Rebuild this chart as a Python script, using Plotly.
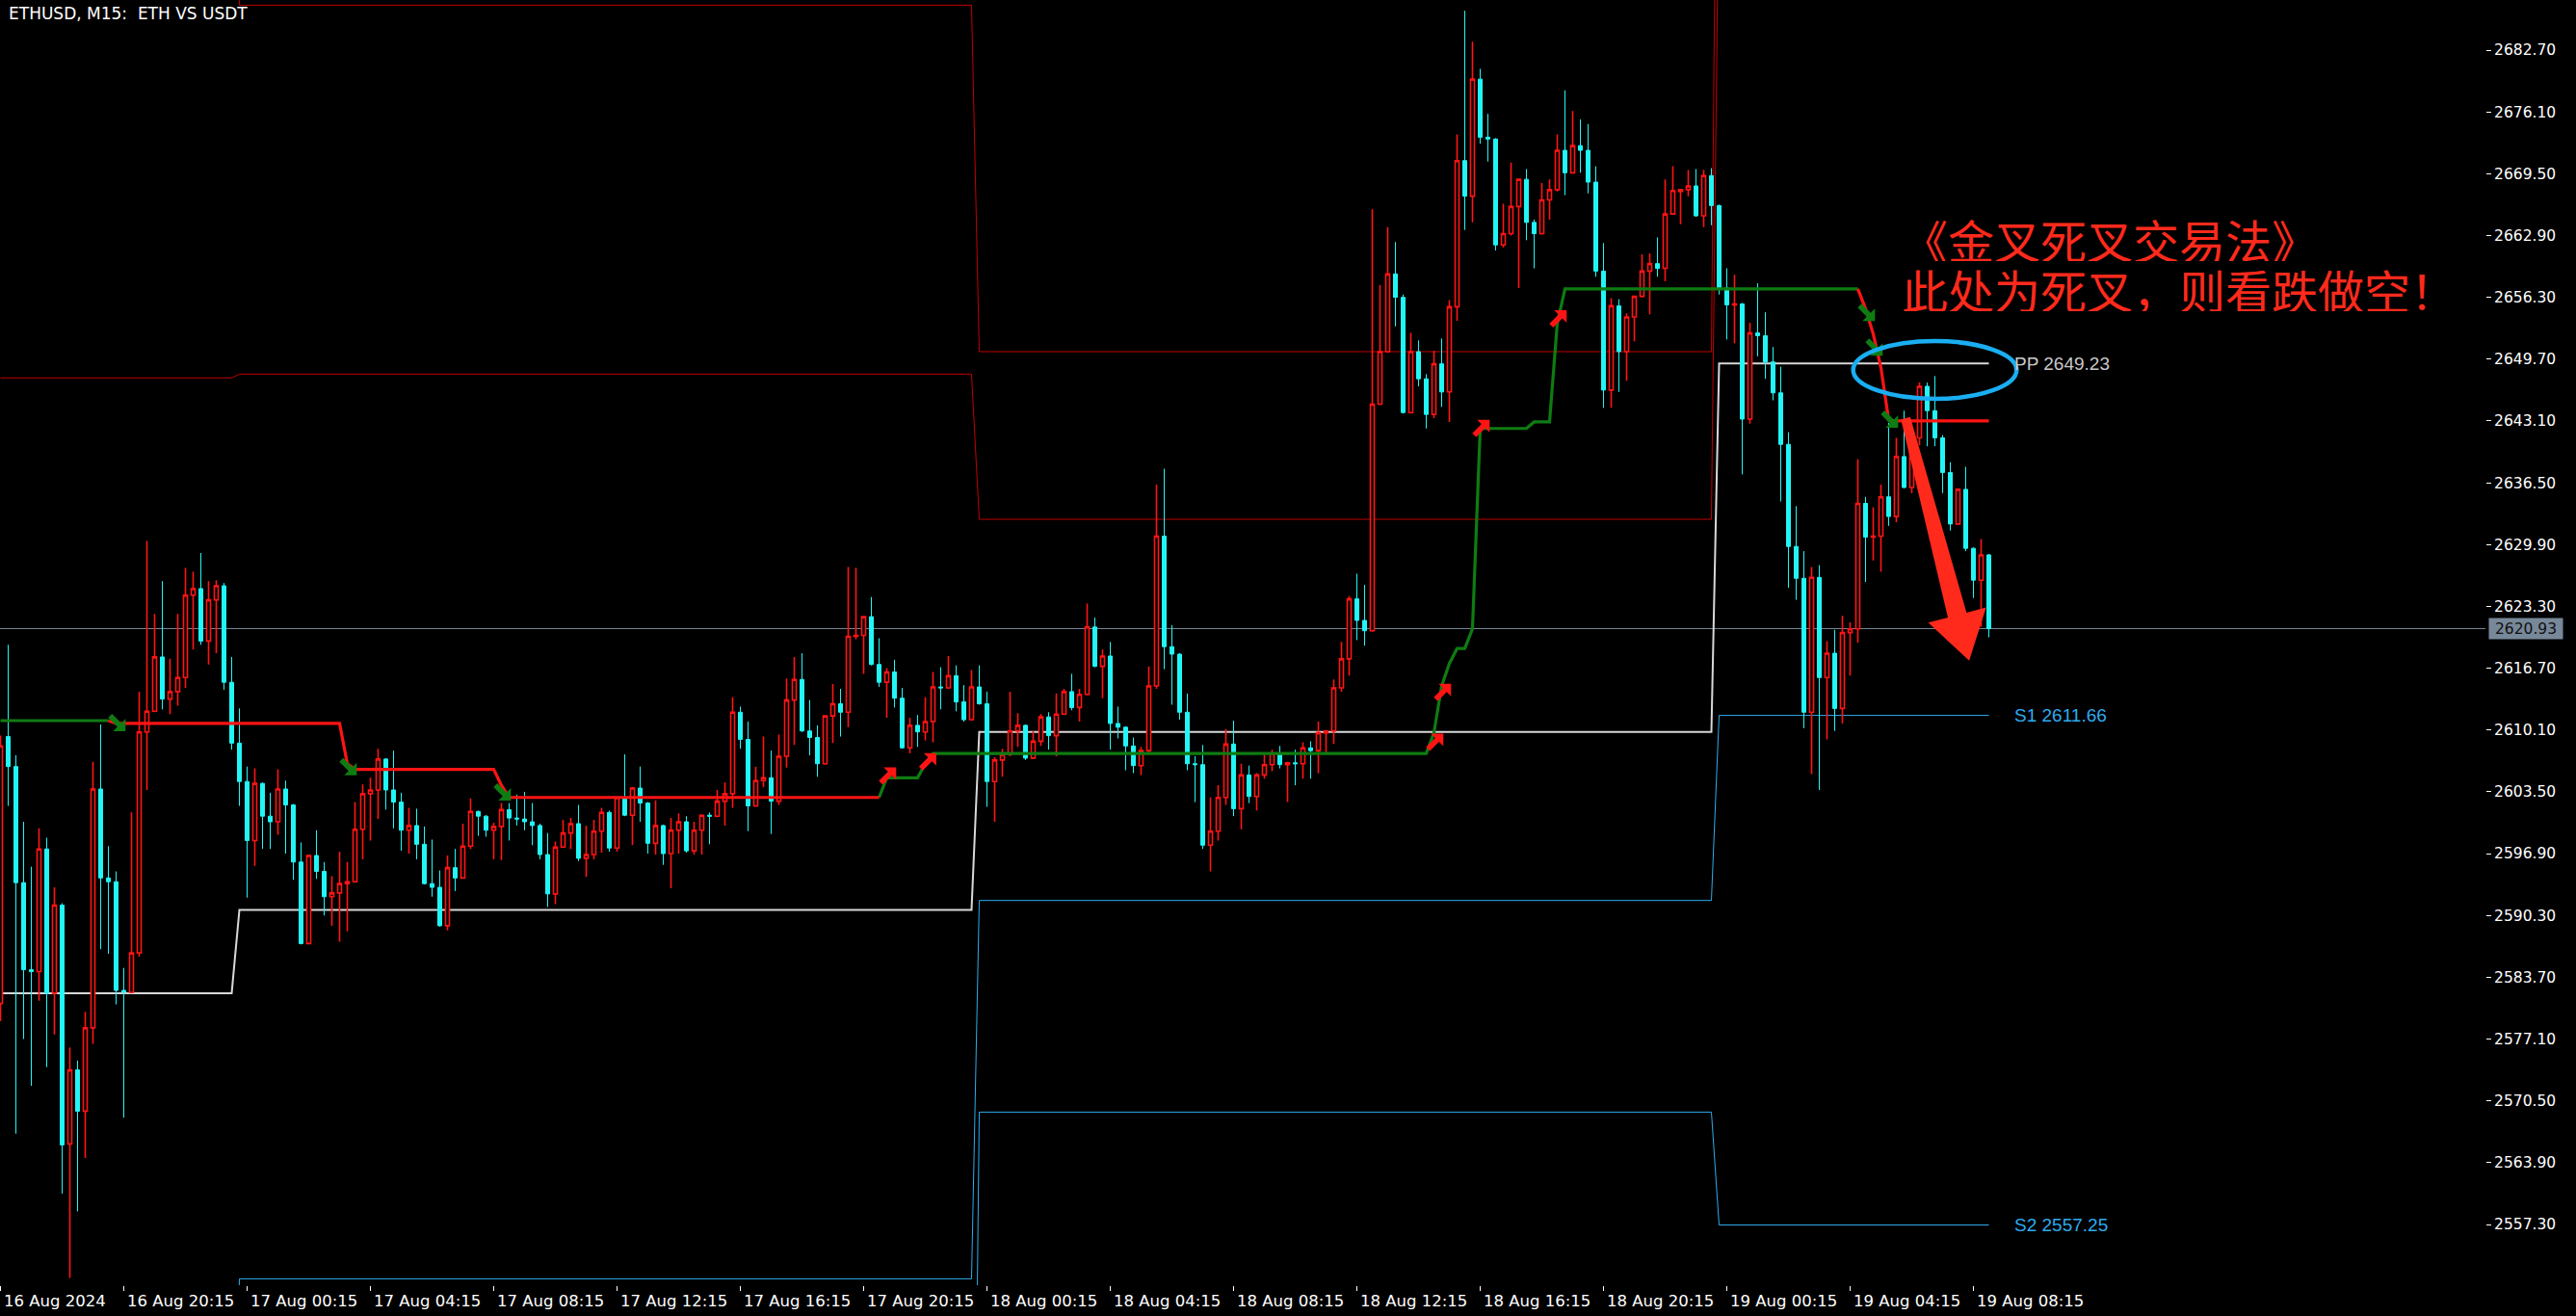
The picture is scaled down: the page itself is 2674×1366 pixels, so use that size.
import math
import plotly.graph_objects as go

# ---------------- data ----------------
open_ = [2580.9, 2609.4, 2606.2, 2593.8, 2584.5, 2584.3, 2597.4, 2582.0, 2591.4, 2565.9,
         2573.8, 2569.4, 2578.3, 2603.8, 2594.3, 2593.9, 2582.3, 2582.1, 2586.3, 2609.9,
         2612.1, 2617.9, 2613.4, 2614.2, 2615.7, 2624.5, 2625.2, 2619.6, 2624.0, 2625.5,
         2615.2, 2608.7, 2604.6, 2598.3, 2604.4, 2600.9, 2600.3, 2603.8, 2602.1, 2596.0,
         2587.3, 2596.7, 2595.0, 2592.3, 2592.7, 2593.7, 2593.9, 2599.5, 2603.3, 2603.7,
         2607.0, 2603.7, 2602.4, 2599.4, 2599.9, 2597.9, 2593.7, 2593.3, 2589.2, 2595.4,
         2594.3, 2597.7, 2601.4, 2600.9, 2599.4, 2599.8, 2601.6, 2600.7, 2600.6, 2600.3,
         2599.9, 2596.8, 2592.6, 2597.6, 2599.1, 2600.1, 2596.4, 2596.8, 2599.3, 2601.3,
         2597.5, 2602.9, 2601.0, 2603.9, 2602.3, 2598.0, 2599.9, 2596.9, 2599.4, 2600.3,
         2597.2, 2599.4, 2601.0, 2600.9, 2602.5, 2603.3, 2612.0, 2609.1, 2602.0, 2604.7,
         2605.0, 2602.5, 2607.3, 2613.3, 2615.5, 2610.0, 2609.3, 2606.5, 2611.6, 2612.9,
         2612.0, 2620.1, 2620.2, 2622.2, 2617.1, 2615.2, 2616.3, 2613.5, 2608.2, 2610.6,
         2609.9, 2611.0, 2614.7, 2614.6, 2615.9, 2613.1, 2611.2, 2614.7, 2612.9, 2604.6,
         2606.9, 2607.5, 2610.0, 2610.6, 2607.1, 2608.9, 2611.5, 2609.5, 2611.8, 2614.2,
         2612.5, 2613.9, 2621.1, 2616.9, 2618.0, 2610.8, 2610.4, 2608.4, 2606.3, 2607.9,
         2614.8, 2630.8, 2619.0, 2618.2, 2612.0, 2606.5, 2606.4, 2597.8, 2599.3, 2602.9,
         2608.6, 2601.7, 2605.3, 2603.0, 2605.3, 2606.4, 2607.6, 2606.4, 2606.6, 2606.5,
         2608.2, 2607.9, 2609.8, 2610.0, 2614.6, 2617.7, 2624.1, 2621.8, 2620.7, 2644.9,
         2650.5, 2658.8, 2656.3, 2644.0, 2650.5, 2647.6, 2643.8, 2649.2, 2646.2, 2655.3,
         2670.9, 2667.1, 2679.6, 2673.4, 2673.2, 2661.9, 2663.1, 2666.0, 2668.9, 2664.3,
         2663.1, 2666.7, 2667.8, 2672.0, 2669.6, 2672.5, 2672.0, 2668.6, 2659.1, 2646.4,
         2655.4, 2650.5, 2654.2, 2656.4, 2659.1, 2659.9, 2659.4, 2665.2, 2667.6, 2667.8,
         2668.2, 2665.0, 2669.3, 2666.1, 2657.3, 2655.5, 2655.6, 2643.3, 2652.5, 2652.2,
         2649.4, 2646.1, 2640.6, 2629.7, 2626.3, 2612.0, 2626.4, 2615.7, 2618.3, 2612.4,
         2620.5, 2620.9, 2634.3, 2630.7, 2630.8, 2635.0, 2632.9, 2639.3, 2636.0, 2641.3,
         2646.8, 2644.2, 2641.3, 2637.6, 2632.1, 2635.8, 2629.5, 2626.1, 2628.8]
high = [2609.5, 2619.2, 2607.4, 2600.3, 2595.5, 2599.6, 2598.6, 2593.3, 2591.6, 2576.2,
        2574.8, 2580.0, 2606.7, 2610.7, 2597.7, 2595.0, 2584.7, 2601.3, 2614.2, 2630.3,
        2622.5, 2626.0, 2617.7, 2622.5, 2627.4, 2627.0, 2629.0, 2626.0, 2626.1, 2625.8,
        2617.9, 2612.4, 2606.2, 2606.0, 2604.5, 2603.4, 2605.9, 2604.7, 2602.2, 2598.1,
        2596.8, 2599.4, 2596.0, 2594.5, 2597.1, 2596.0, 2602.4, 2604.3, 2605.0, 2608.1,
        2607.1, 2607.9, 2603.4, 2601.8, 2601.7, 2599.8, 2598.4, 2595.1, 2596.7, 2597.4,
        2600.1, 2602.8, 2601.5, 2601.0, 2600.2, 2602.3, 2602.3, 2603.2, 2603.5, 2602.3,
        2600.1, 2599.1, 2598.2, 2600.5, 2600.7, 2602.1, 2599.9, 2600.5, 2601.8, 2601.5,
        2603.0, 2607.5, 2604.0, 2606.2, 2602.4, 2602.6, 2600.0, 2600.7, 2601.2, 2600.9,
        2600.3, 2601.1, 2601.3, 2603.7, 2604.5, 2613.6, 2612.6, 2611.0, 2606.2, 2609.4,
        2607.9, 2609.6, 2615.6, 2617.9, 2618.3, 2613.3, 2610.6, 2611.7, 2615.0, 2614.5,
        2627.5, 2627.4, 2622.3, 2624.3, 2619.9, 2616.7, 2617.6, 2614.6, 2611.4, 2611.7,
        2613.6, 2616.3, 2616.8, 2618.0, 2617.0, 2614.9, 2616.5, 2617.0, 2614.2, 2607.2,
        2608.1, 2614.2, 2611.9, 2610.7, 2610.0, 2611.8, 2612.0, 2614.0, 2614.5, 2616.1,
        2614.5, 2623.6, 2622.1, 2618.7, 2619.5, 2612.6, 2610.5, 2609.3, 2608.3, 2616.9,
        2636.3, 2638.0, 2621.3, 2618.3, 2614.0, 2607.3, 2608.5, 2602.9, 2604.2, 2610.2,
        2611.1, 2606.5, 2606.3, 2605.5, 2607.7, 2608.0, 2608.4, 2606.7, 2608.0, 2608.8,
        2608.9, 2611.0, 2610.1, 2615.5, 2619.5, 2624.4, 2626.8, 2625.6, 2665.7, 2657.6,
        2663.8, 2662.2, 2656.6, 2652.5, 2651.7, 2648.1, 2650.6, 2651.9, 2656.0, 2673.7,
        2686.9, 2683.6, 2680.7, 2675.9, 2673.3, 2666.3, 2670.7, 2669.0, 2670.0, 2664.6,
        2668.5, 2668.9, 2673.7, 2678.4, 2676.2, 2675.3, 2674.8, 2670.3, 2662.1, 2656.2,
        2656.1, 2654.6, 2656.5, 2660.9, 2661.0, 2662.7, 2668.9, 2670.3, 2667.9, 2669.9,
        2670.0, 2669.9, 2670.1, 2666.2, 2659.4, 2658.7, 2655.7, 2653.6, 2657.8, 2654.7,
        2651.0, 2648.9, 2641.9, 2634.0, 2629.2, 2627.5, 2627.7, 2619.6, 2620.8, 2622.3,
        2621.6, 2639.0, 2635.0, 2633.9, 2636.3, 2642.9, 2641.3, 2644.2, 2642.0, 2647.2,
        2647.2, 2647.9, 2641.6, 2638.7, 2635.9, 2638.2, 2629.6, 2630.5, 2628.9]
low = [2579.0, 2602.0, 2567.0, 2577.1, 2572.1, 2581.2, 2574.1, 2577.6, 2560.6, 2551.6,
       2558.7, 2564.4, 2576.6, 2586.7, 2586.2, 2580.8, 2568.7, 2582.0, 2585.9, 2603.7,
       2612.0, 2612.3, 2611.8, 2612.7, 2614.6, 2618.7, 2619.2, 2617.1, 2618.3, 2614.4,
       2608.0, 2602.0, 2592.2, 2595.6, 2597.4, 2597.4, 2598.9, 2596.9, 2594.1, 2587.2,
       2587.2, 2594.2, 2590.3, 2589.2, 2587.5, 2588.6, 2593.8, 2596.3, 2598.3, 2600.6,
       2601.6, 2599.6, 2597.2, 2596.9, 2596.3, 2593.6, 2592.3, 2589.1, 2588.7, 2592.9,
       2594.2, 2597.4, 2598.8, 2598.7, 2596.3, 2596.2, 2598.3, 2599.9, 2599.4, 2597.8,
       2596.3, 2591.2, 2591.5, 2597.5, 2597.4, 2596.1, 2594.4, 2596.3, 2597.0, 2597.1,
       2597.1, 2600.9, 2597.8, 2600.3, 2596.9, 2596.8, 2595.7, 2593.2, 2596.9, 2597.0,
       2596.8, 2596.8, 2597.9, 2600.8, 2599.9, 2601.8, 2608.1, 2599.3, 2601.9, 2604.0,
       2599.0, 2602.1, 2606.1, 2608.5, 2609.9, 2607.4, 2605.1, 2606.4, 2608.7, 2609.4,
       2610.4, 2619.8, 2616.1, 2617.0, 2614.7, 2611.4, 2612.5, 2608.1, 2607.6, 2608.3,
       2609.0, 2608.8, 2612.3, 2614.5, 2612.1, 2611.0, 2611.1, 2612.8, 2601.9, 2600.3,
       2605.1, 2607.3, 2608.3, 2606.9, 2607.0, 2608.4, 2608.0, 2607.3, 2611.7, 2612.2,
       2611.0, 2613.8, 2616.8, 2613.5, 2608.0, 2609.2, 2605.8, 2605.5, 2605.3, 2607.7,
       2614.5, 2616.6, 2612.8, 2611.2, 2605.8, 2602.4, 2597.4, 2595.0, 2598.3, 2602.1,
       2600.9, 2599.5, 2602.3, 2601.5, 2604.9, 2605.7, 2606.0, 2602.4, 2604.2, 2604.9,
       2604.9, 2605.5, 2607.7, 2608.6, 2614.2, 2615.9, 2619.7, 2619.1, 2620.6, 2644.8,
       2650.4, 2653.2, 2643.9, 2643.9, 2646.8, 2642.3, 2643.4, 2644.6, 2643.0, 2653.8,
       2663.5, 2664.3, 2672.7, 2670.8, 2661.3, 2661.6, 2662.9, 2657.3, 2662.4, 2659.4,
       2663.0, 2664.6, 2667.6, 2667.2, 2669.5, 2669.6, 2667.4, 2658.5, 2644.5, 2644.5,
       2646.2, 2647.4, 2651.6, 2656.3, 2654.5, 2658.5, 2658.0, 2665.1, 2664.1, 2667.1,
       2664.9, 2663.8, 2664.0, 2656.6, 2651.8, 2651.4, 2637.4, 2642.8, 2650.0, 2647.6,
       2645.3, 2634.5, 2625.3, 2624.0, 2610.3, 2605.4, 2603.7, 2609.1, 2610.0, 2610.8,
       2615.9, 2619.4, 2625.9, 2628.2, 2627.0, 2631.9, 2632.3, 2635.9, 2635.4, 2640.5,
       2640.4, 2640.4, 2635.4, 2631.4, 2632.0, 2629.2, 2624.2, 2621.1, 2620.0]
close = [2608.4, 2606.2, 2593.8, 2584.5, 2584.3, 2597.4, 2582.0, 2591.4, 2565.8, 2573.8,
         2569.4, 2578.3, 2603.8, 2594.3, 2593.9, 2582.3, 2582.1, 2586.3, 2609.9, 2612.1,
         2617.9, 2613.4, 2614.2, 2615.7, 2624.5, 2625.2, 2619.6, 2624.0, 2625.5, 2615.2,
         2608.7, 2604.6, 2598.3, 2604.4, 2600.9, 2600.3, 2603.8, 2602.1, 2596.0, 2587.3,
         2596.7, 2595.0, 2592.3, 2592.7, 2593.7, 2593.9, 2599.5, 2603.3, 2603.7, 2607.0,
         2603.7, 2602.4, 2599.4, 2599.9, 2597.9, 2593.7, 2593.3, 2589.2, 2595.4, 2594.3,
         2597.7, 2601.4, 2600.9, 2599.4, 2599.8, 2601.6, 2600.7, 2600.6, 2600.3, 2599.9,
         2596.8, 2592.6, 2597.6, 2599.1, 2600.1, 2596.4, 2596.8, 2599.3, 2601.3, 2597.5,
         2602.9, 2601.0, 2603.9, 2602.3, 2598.0, 2599.9, 2596.9, 2599.4, 2600.3, 2597.2,
         2599.4, 2601.0, 2600.9, 2602.5, 2603.3, 2612.0, 2609.1, 2602.0, 2604.7, 2605.0,
         2602.5, 2607.3, 2613.3, 2615.5, 2610.0, 2609.3, 2606.5, 2611.6, 2612.9, 2612.0,
         2620.1, 2620.2, 2622.2, 2617.1, 2615.2, 2616.3, 2613.5, 2608.2, 2610.6, 2609.9,
         2611.0, 2614.7, 2614.6, 2615.9, 2613.1, 2611.2, 2614.7, 2612.9, 2604.6, 2606.9,
         2607.5, 2610.0, 2610.6, 2607.1, 2608.9, 2611.5, 2609.5, 2611.8, 2614.2, 2612.5,
         2613.9, 2621.1, 2616.9, 2618.0, 2610.8, 2610.4, 2608.4, 2606.3, 2607.9, 2614.8,
         2630.8, 2619.0, 2618.2, 2612.0, 2606.5, 2606.4, 2597.8, 2599.3, 2602.9, 2608.6,
         2601.7, 2605.3, 2603.0, 2605.3, 2606.4, 2607.6, 2606.4, 2606.6, 2606.5, 2608.2,
         2607.9, 2609.8, 2610.0, 2614.6, 2617.7, 2624.1, 2621.8, 2620.7, 2644.9, 2650.5,
         2658.8, 2656.3, 2644.0, 2650.5, 2647.6, 2643.8, 2649.2, 2646.2, 2655.3, 2670.9,
         2667.1, 2679.6, 2673.4, 2673.2, 2661.9, 2663.1, 2666.0, 2668.9, 2664.3, 2663.1,
         2666.7, 2667.8, 2672.0, 2669.6, 2672.5, 2672.0, 2668.6, 2659.1, 2646.4, 2655.4,
         2650.5, 2654.2, 2656.4, 2659.1, 2659.9, 2659.4, 2665.2, 2667.7, 2667.8, 2668.2,
         2665.0, 2669.3, 2666.1, 2657.3, 2655.5, 2655.6, 2643.3, 2652.5, 2652.2, 2649.4,
         2646.1, 2640.6, 2629.7, 2626.3, 2612.0, 2626.4, 2615.7, 2618.3, 2612.4, 2620.5,
         2620.9, 2634.3, 2630.7, 2630.8, 2635.0, 2632.9, 2639.3, 2636.0, 2641.3, 2646.8,
         2644.2, 2641.3, 2637.6, 2632.1, 2635.8, 2629.5, 2626.1, 2628.8, 2620.93]

# Step trend indicator (value per bar) and its colour state (1 = green / up, 0 = red / down)
trend_line = ([2611.1] * 15 + [2610.8] * 30 + [2606.5] + [2605.9] * 19 + [2604.2] +
              [2602.9] * 49 + [2605.0] * 5 + [2606.5] + [2607.6] * 65 +
              [2609.8, 2614.8, 2617.2, 2618.8, 2618.8, 2620.9] + [2642.3] * 7 +
              [2643.0] * 3 + [2653.5] + [2657.2] * 39 + [2655.1, 2652.4, 2648.8] +
              [2643.2] + [2643.1] * 13)
trend_up = [1] * 15 + [0] * 100 + [1] * 127 + [0] * 17

# Signal arrows of the indicator (bar position, price of the arrow centre)
down_arrow_bars = [15.1, 45.1, 65.1, 242.1, 243.1, 245.1]
down_arrow_prices = [2610.9, 2606.2, 2603.5, 2654.7, 2651.0, 2643.3]
up_arrow_bars = [115.1, 120.3, 186.1, 187.1, 192.1, 202.1]
up_arrow_prices = [2605.2, 2606.7, 2608.8, 2614.1, 2642.3, 2654.0]

# Daily pivot levels: first bar of each day and the level values per day
day_start_bars = [0, 31, 127, 223]
pivot_pp = [2582.0, 2590.9, 2609.9, 2649.23]
pivot_r1 = [2647.7, 2648.1, 2632.6, 2703.66]
pivot_r2 = [2713.0, 2687.5, 2650.5, 2741.2]
pivot_s1 = [2516.3, 2551.5, 2591.9, 2611.66]
pivot_s2 = [2451.0, 2494.3, 2569.3, 2557.25]

# Axis ticks
x_tick_bars = [0, 16, 32, 48, 64, 80, 96, 112, 128, 144, 160, 176, 192, 208, 224, 240, 256]
x_tick_labels = ["16 Aug 2024", "16 Aug 20:15", "17 Aug 00:15", "17 Aug 04:15", "17 Aug 08:15",
                 "17 Aug 12:15", "17 Aug 16:15", "17 Aug 20:15", "18 Aug 00:15", "18 Aug 04:15",
                 "18 Aug 08:15", "18 Aug 12:15", "18 Aug 16:15", "18 Aug 20:15", "19 Aug 00:15",
                 "19 Aug 04:15", "19 Aug 08:15"]
y_tick_values = [2557.30, 2563.90, 2570.50, 2577.10, 2583.70, 2590.30, 2596.90, 2603.50,
                 2610.10, 2616.70, 2623.30, 2629.90, 2636.50, 2643.10, 2649.70, 2656.30,
                 2662.90, 2669.50, 2676.10, 2682.70]

title_text = "ETHUSD, M15:  ETH VS USDT"
note_line1 = "《金叉死叉交易法》"
note_line2 = "此处为死叉，则看跌做空！"

# ---------------- styling / layout constants ----------------
W, H = 2674, 1366
M_L, M_R, M_T, M_B = 0, 94, 0, 32
X_RANGE = [-0.0625, 322.4375]
Y_RANGE = [2550.82, 2688.05]
PLOT_W = W - M_L - M_R
PLOT_H = H - M_T - M_B
PX_PER_BAR = PLOT_W / (X_RANGE[1] - X_RANGE[0])
PX_PER_PRICE = PLOT_H / (Y_RANGE[1] - Y_RANGE[0])

RED = "#FF1414"
CYAN = "#22F5F5"
GREEN = "#0E7C12"
PIV_RED = "#C00000"
PIV_BLUE = "#2EABEE"
PIV_WHITE = "#D8D8D8"
NOTE_RED = "#FF2A1C"
ELLIPSE_BLUE = "#1AAEF2"
AXIS_FONT = "DejaVu Sans"

bars = list(range(len(close)))
n = len(bars)


def day_of(i):
    d = 0
    for k, s in enumerate(day_start_bars):
        if i >= s:
            d = k
    return d


def px_to_data(bx, py, ox, oy):
    """convert a pixel offset (x right, y down) around a chart point into chart units"""
    return bx + ox / PX_PER_BAR, py - oy / PX_PER_PRICE


fig = go.Figure()

# pivot level lines (behind candles)
for levels, color, width in [(pivot_r2, PIV_RED, 1), (pivot_r1, PIV_RED, 1),
                             (pivot_s1, PIV_BLUE, 1), (pivot_s2, PIV_BLUE, 1),
                             (pivot_pp, PIV_WHITE, 2)]:
    fig.add_trace(go.Scatter(x=bars, y=[levels[day_of(i)] for i in bars], mode="lines",
                             line=dict(color=color, width=width), hoverinfo="skip",
                             showlegend=False, zorder=-1))

# candles
fig.add_trace(go.Candlestick(
    x=bars, open=open_, high=high, low=low, close=close,
    increasing=dict(line=dict(color=RED, width=1.6), fillcolor="black"),
    decreasing=dict(line=dict(color=CYAN, width=1), fillcolor=CYAN),
    whiskerwidth=0, showlegend=False, hoverinfo="skip"))

# trend line, coloured by state
for state, color in [(1, GREEN), (0, RED)]:
    ys = []
    for i in bars:
        on = trend_up[i] == state
        starts_run = (i + 1 < n and trend_up[i + 1] == state and trend_up[i] != state)
        ys.append(trend_line[i] if (on or starts_run) else None)
    fig.add_trace(go.Scatter(x=bars, y=ys, mode="lines", line=dict(color=color, width=3.2),
                             hoverinfo="skip", showlegend=False, zorder=1, connectgaps=False))

annotations = []
shapes = []

# signal arrow glyph (pixel outline, tip at bottom-right, centred on the signal point)
ARROW_GLYPH = [(0, 0), (-13, 0), (-8.5, -4.5), (-18, -14), (-14, -18), (-4.5, -8.5), (0, -13)]
for bars_list, prices_list, color, flip in [(down_arrow_bars, down_arrow_prices, GREEN, 1),
                                            (up_arrow_bars, up_arrow_prices, RED, -1)]:
    for bx, py in zip(bars_list, prices_list):
        pts = [px_to_data(bx, py, gx + 9, flip * (gy + 9)) for gx, gy in ARROW_GLYPH]
        path = "M " + " L ".join(f"{x:.4f},{y:.4f}" for x, y in pts) + " Z"
        shapes.append(dict(type="path", xref="x", yref="y", path=path, fillcolor=color,
                           line=dict(width=0), layer="above"))

# x axis labels (left aligned at ticks, as in the terminal)
for b, lab in zip(x_tick_bars, x_tick_labels):
    annotations.append(dict(x=b, y=0, xref="x", yref="paper", text=lab, showarrow=False,
                            xanchor="left", yanchor="middle", xshift=1, yshift=-16,
                            font=dict(family=AXIS_FONT, size=16.5, color="white")))

# last price line and box
last_price = close[-1]
shapes.append(dict(type="line", xref="paper", yref="y", x0=0, x1=1, y0=last_price, y1=last_price,
                   line=dict(color="#778899", width=1), layer="below"))
annotations.append(dict(x=1, y=last_price, xref="paper", yref="y", text=f"{last_price:.2f}",
                        showarrow=False, xanchor="left", yanchor="middle", xshift=3,
                        bgcolor="#778899", width=74, height=19, borderpad=1,
                        font=dict(family=AXIS_FONT, size=15.5, color="#101010")))

# pivot labels for the current day
last_day = len(day_start_bars) - 1
for name, levels, color in [("PP", pivot_pp, "#C8C8C8"), ("S1", pivot_s1, PIV_BLUE),
                            ("S2", pivot_s2, PIV_BLUE)]:
    annotations.append(dict(x=bars[-1], y=levels[last_day], xref="x", yref="y",
                            text=f"{name} {levels[last_day]:.2f}", showarrow=False,
                            xanchor="left", yanchor="middle", xshift=24,
                            font=dict(family="Liberation Sans", size=19, color=color)))

# title
annotations.append(dict(x=0, y=1, xref="paper", yref="paper", text=title_text, showarrow=False,
                        xanchor="left", yanchor="middle", xshift=7, yshift=-14,
                        font=dict(family=AXIS_FONT, size=17, color="white")))

# Chinese notes
note_x_bar = 246.6
annotations.append(dict(x=note_x_bar, y=2662.5, xref="x", yref="y", text=note_line1,
                        showarrow=False, xanchor="left", yanchor="middle", height=46,
                        borderpad=0,
                        font=dict(family="Noto Sans CJK SC", size=48, color=NOTE_RED)))
annotations.append(dict(x=note_x_bar, y=2657.2, xref="x", yref="y", text=note_line2,
                        showarrow=False, xanchor="left", yanchor="middle", height=46,
                        borderpad=0,
                        font=dict(family="Noto Sans CJK SC", size=48, color=NOTE_RED)))

# blue ellipse marking the cross
shapes.append(dict(type="circle", xref="x", yref="y", x0=240.4, x1=261.6, y0=2645.46, y1=2651.63,
                   line=dict(color=ELLIPSE_BLUE, width=4.5), layer="above"))

# big red arrow (tail / tip given in chart coordinates, outline built in pixel space)
arrow_tail = (247.2, 2643.4)
arrow_tip = (255.45, 2617.5)
dx = (arrow_tip[0] - arrow_tail[0]) * PX_PER_BAR
dy = -(arrow_tip[1] - arrow_tail[1]) * PX_PER_PRICE
L = math.hypot(dx, dy)
ux, uy = dx / L, dy / L
nx, ny = uy, -ux
head_len, head_half, shaft0, shaft1 = 49, 31, 5, 10
hx, hy = ux * (L - head_len), uy * (L - head_len)
pts_px = [(nx * shaft0, ny * shaft0), (hx + nx * shaft1, hy + ny * shaft1),
          (hx + nx * head_half, hy + ny * head_half), (dx, dy),
          (hx - nx * head_half, hy - ny * head_half), (hx - nx * shaft1, hy - ny * shaft1),
          (-nx * shaft0, -ny * shaft0)]
pts = [px_to_data(arrow_tail[0], arrow_tail[1], px, py) for px, py in pts_px]
path = "M " + " L ".join(f"{x:.4f},{y:.4f}" for x, y in pts) + " Z"
shapes.append(dict(type="path", xref="x", yref="y", path=path, fillcolor=NOTE_RED,
                   line=dict(width=0), layer="above"))

fig.update_layout(
    width=W, height=H,
    margin=dict(l=M_L, r=M_R, t=M_T, b=M_B, pad=0),
    paper_bgcolor="black", plot_bgcolor="black",
    showlegend=False, hovermode=False,
    boxgap=0.5, boxgroupgap=0,
    annotations=annotations, shapes=shapes,
    xaxis=dict(range=X_RANGE, showgrid=False, zeroline=False, showline=True, linecolor="white",
               linewidth=1, ticks="outside", ticklen=5, tickcolor="white", tickvals=x_tick_bars,
               showticklabels=False, rangeslider=dict(visible=False), fixedrange=True),
    yaxis=dict(range=Y_RANGE, side="right", showgrid=False, zeroline=False, showline=True,
               linecolor="white", linewidth=1, ticks="outside", ticklen=5, tickcolor="white",
               tickvals=y_tick_values, ticktext=[f"{v:.2f}" for v in y_tick_values],
               tickfont=dict(family=AXIS_FONT, size=15.5, color="white"), fixedrange=True),
)

fig.write_html("out.html", config={"displayModeBar": False},
               post_script="document.body.style.margin='0';document.body.style.background='black';")
